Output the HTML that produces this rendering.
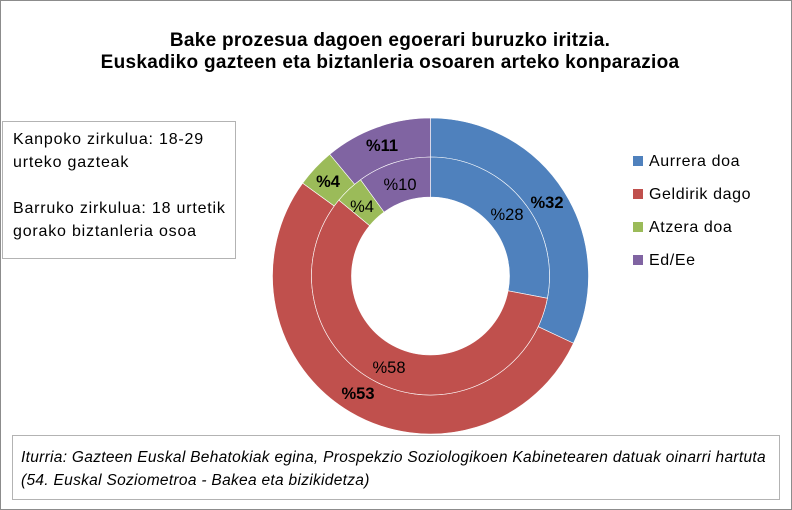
<!DOCTYPE html>
<html><head><meta charset="utf-8"><style>
body{margin:0;width:792px;height:510px;background:#fff;font-family:"Liberation Sans",sans-serif;overflow:hidden}
#frame{position:absolute;left:0;top:0;width:790px;height:508px;border:1px solid #8c8c8c}
.t{position:absolute;left:0;width:780px;text-align:center;font-weight:bold;font-size:19px;letter-spacing:0.3px;color:#000}
.box{position:absolute;border:1px solid #b3b3b3;background:#fff;color:#000}
.leg{position:absolute;left:633px;font-size:16px;letter-spacing:0.6px}
.leg span{display:inline-block;width:10px;height:10px;margin-right:6px}
</style></head><body>
<div id="frame"></div>
<div class="t" style="top:30px">Bake prozesua dagoen egoerari buruzko iritzia.</div>
<div class="t" style="top:52px">Euskadiko gazteen eta biztanleria osoaren arteko konparazioa</div>
<div class="box" style="left:2px;top:121px;width:234px;height:138px;padding:6px 0 0 10px;box-sizing:border-box;font-size:16px;letter-spacing:0.8px;line-height:23px">Kanpoko zirkulua: 18-29<br>urteko gazteak<br><div style="height:23px"></div>Barruko zirkulua: 18 urtetik<br>gorako biztanleria osoa</div>
<svg id="s" width="792" height="510" style="position:absolute;left:0;top:0"></svg>
<div class="leg" style="top:153px"><span style="background:#4F81BD"></span>Aurrera doa</div>
<div class="leg" style="top:186px"><span style="background:#C0504D"></span>Geldirik dago</div>
<div class="leg" style="top:219px"><span style="background:#9BBB59"></span>Atzera doa</div>
<div class="leg" style="top:252px"><span style="background:#8064A2"></span>Ed/Ee</div>
<div class="box" style="left:12px;top:435px;width:768px;height:65px;padding:10px 0 0 8px;box-sizing:border-box;font-style:italic;font-size:15.5px;letter-spacing:0.3px;line-height:23px;white-space:nowrap">Iturria: Gazteen Euskal Behatokiak egina, Prospekzio Soziologikoen Kabinetearen datuak oinarri hartuta<br>(54. Euskal Soziometroa - Bakea eta bizikidetza)</div>
<script>
var cx=430.5,cy=276,cols=["#4F81BD","#C0504D","#9BBB59","#8064A2"],h="";
function P(a,r){a=(a-90)*Math.PI/180;return [cx+r*Math.cos(a),cy+r*Math.sin(a)];}
function ring(v,r0,r1){var a=0;for(var i=0;i<4;i++){var b=a+v[i]*3.6,l=(b-a)>180?1:0;
var p1=P(a,r1),p2=P(b,r1),p3=P(b,r0),p4=P(a,r0);
h+='<path fill="'+cols[i]+'" stroke="#fff" stroke-width="0.6" d="M'+p1+'A'+r1+','+r1+' 0 '+l+' 1 '+p2+'L'+p3+'A'+r0+','+r0+' 0 '+l+' 0 '+p4+'Z"/>';a=b;}}
ring([32,53,4,11],119,158);ring([28,58,4,10],79,119);
var L=[[547,208,"%32",1],[358,399,"%53",1],[328,187,"%4",1],[382,151,"%11",1],[507,220,"%28",0],[389,373,"%58",0],[362,212,"%4",0],[400,190,"%10",0]];
L.forEach(function(t){h+='<text x="'+t[0]+'" y="'+t[1]+'" font-size="16.5" text-anchor="middle" font-family="Liberation Sans,sans-serif"'+(t[3]?' font-weight="bold"':'')+'>'+t[2]+'</text>';});
document.getElementById("s").innerHTML=h;
</script>
</body></html>
